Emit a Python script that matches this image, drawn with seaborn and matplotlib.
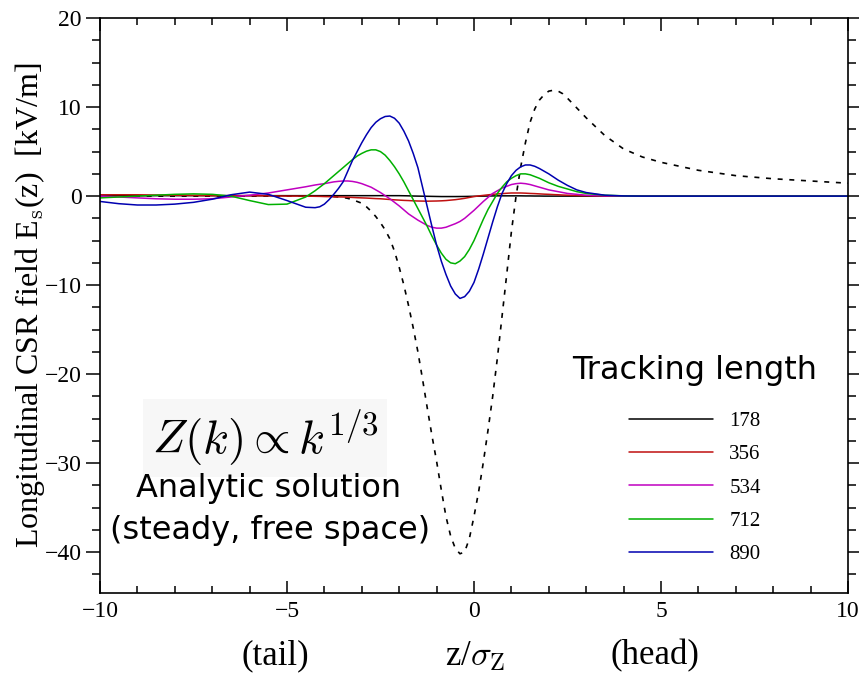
import numpy as np
import pandas as pd
import matplotlib
matplotlib.use("Agg")
import matplotlib.pyplot as plt
from matplotlib.ticker import MultipleLocator
from matplotlib.lines import Line2D
import seaborn as sns

# ---------------- data ----------------
z = [-10, -9.5, -9, -8.5, -8, -7.5, -7, -6.5, -6, -5.5, -5, -4.5,
     -4.25, -4.125, -4.0, -3.875, -3.75, -3.625, -3.5, -3.375, -3.25, -3.125,
     -3.0, -2.875, -2.75, -2.625, -2.5, -2.375, -2.25, -2.125, -2.0, -1.875,
     -1.75, -1.625, -1.5, -1.375, -1.25, -1.125, -1.0, -0.875, -0.75, -0.625,
     -0.5, -0.375, -0.25, -0.125, 0.0, 0.125, 0.25, 0.375, 0.5, 0.625,
     0.75, 0.875, 1.0, 1.125, 1.25, 1.375, 1.5, 1.625, 1.75, 1.875,
     2.0, 2.125, 2.25, 2.375, 2.5,
     2.75, 3, 3.5, 4, 4.5, 5, 6, 7, 8, 9, 10]

analytic = [0, 0, 0, 0, 0, 0, 0, 0, 0, 0, 0, 0,
            0, 0, 0, -0.02, -0.05, -0.1, -0.15, -0.25, -0.4, -0.6,
            -0.8, -1.2, -1.7, -2.3, -3.0, -3.8, -4.8, -6.2, -8.0, -10.0,
            -12.3, -14.8, -17.5, -20.6, -23.8, -26.9, -29.8, -33.0, -36.0, -38.2,
            -39.6, -40.2, -40.0, -38.5, -36.0, -33.2, -29.9, -26.3, -22.5, -18.2,
            -13.5, -8.8, -4.0, 0.0, 3.3, 6.0, 8.3, 9.8, 10.8, 11.4,
            11.8, 11.9, 11.8, 11.5, 11.0,
            9.9, 8.8, 6.8, 5.3, 4.4, 3.8, 2.9, 2.3, 1.95, 1.7, 1.45]

e178 = [0.05, 0.05, 0.05, 0.05, 0.05, 0.05, 0.05, 0.05, 0.05, 0.05, 0.05, 0.05,
        0.05, 0.05, 0.05, 0.05, 0.05, 0.05, 0.05, 0.05, 0.05, 0.05,
        0.05, 0.05, 0.05, 0.05, 0.05, 0.05, 0.05, 0.05, 0.05, 0.04,
        0.03, 0.01, 0.0, -0.01, -0.02, -0.03, -0.04, -0.05, -0.05, -0.05,
        -0.05, -0.045, -0.04, -0.03, -0.02, -0.01, 0.0, 0.01, 0.02, 0.03,
        0.03, 0.03, 0.03, 0.03, 0.03, 0.02, 0.02, 0.01, 0.01, 0.0,
        0, 0, 0, 0, 0,
        0, 0, 0, 0, 0, 0, 0, 0, 0, 0, 0]

e356 = [0.15, 0.15, 0.15, 0.12, 0.1, 0.08, 0.05, 0.05, 0.05, 0.03, 0.0, 0.0,
        -0.02, -0.03, -0.05, -0.06, -0.08, -0.09, -0.1, -0.12, -0.15, -0.18,
        -0.2, -0.22, -0.25, -0.28, -0.3, -0.34, -0.38, -0.42, -0.45, -0.48,
        -0.5, -0.53, -0.55, -0.56, -0.57, -0.56, -0.55, -0.53, -0.5, -0.45,
        -0.4, -0.33, -0.25, -0.15, -0.05, 0.02, 0.08, 0.14, 0.2, 0.24,
        0.28, 0.32, 0.35, 0.35, 0.35, 0.33, 0.3, 0.28, 0.25, 0.22,
        0.2, 0.17, 0.15, 0.12, 0.1,
        0.07, 0.05, 0.02, 0, 0, 0, 0, 0, 0, 0, 0]

e534 = [0.0, -0.1, -0.2, -0.3, -0.35, -0.35, -0.3, -0.1, 0.1, 0.35, 0.7, 1.05,
        1.25, 1.33, 1.4, 1.5, 1.6, 1.66, 1.7, 1.7, 1.65, 1.55,
        1.4, 1.2, 1.0, 0.7, 0.4, 0.05, -0.3, -0.7, -1.1, -1.55,
        -2.0, -2.35, -2.7, -3.0, -3.3, -3.5, -3.6, -3.6, -3.5, -3.3,
        -3.1, -2.85, -2.5, -2.05, -1.6, -1.1, -0.6, -0.15, 0.3, 0.6,
        0.9, 1.1, 1.3, 1.4, 1.45, 1.4, 1.3, 1.15, 1.0, 0.85,
        0.7, 0.6, 0.5, 0.4, 0.3,
        0.2, 0.1, 0.03, 0, 0, 0, 0, 0, 0, 0, 0]

e712 = [-0.2, -0.1, 0.0, 0.1, 0.2, 0.25, 0.2, 0.0, -0.5, -0.95, -0.9, -0.1,
        0.6, 1.0, 1.4, 1.85, 2.3, 2.75, 3.2, 3.65, 4.1, 4.5,
        4.8, 5.05, 5.2, 5.2, 5.0, 4.6, 4.0, 3.3, 2.5, 1.6,
        0.6, -0.4, -1.4, -2.4, -3.4, -4.5, -5.5, -6.4, -7.1, -7.5,
        -7.6, -7.3, -6.8, -6.0, -5.0, -3.8, -2.6, -1.5, -0.6, 0.3,
        1.0, 1.6, 2.0, 2.3, 2.5, 2.5, 2.4, 2.2, 2.0, 1.75,
        1.5, 1.3, 1.1, 0.95, 0.8,
        0.5, 0.3, 0.1, 0.03, 0, 0, 0, 0, 0, 0, 0]

e890 = [-0.6, -0.85, -1.0, -1.0, -0.9, -0.7, -0.35, 0.15, 0.45, 0.2, -0.5, -1.25,
        -1.3, -1.2, -0.9, -0.4, 0.2, 0.85, 1.6, 2.8, 4.0, 5.0,
        6.0, 6.9, 7.7, 8.3, 8.7, 8.95, 9.0, 8.75, 8.2, 7.3,
        6.2, 4.8, 3.2, 1.0, -1.2, -3.4, -5.5, -7.3, -8.8, -10.1,
        -11.0, -11.5, -11.3, -10.7, -9.7, -8.2, -6.5, -4.7, -2.9, -1.2,
        0.3, 1.4, 2.3, 2.9, 3.3, 3.5, 3.5, 3.35, 3.1, 2.8,
        2.5, 2.15, 1.8, 1.5, 1.2,
        0.7, 0.4, 0.1, 0.02, 0, 0, 0, 0, 0, 0, 0]

lengths = ["178", "356", "534", "712", "890"]
series = [e178, e356, e534, e712, e890]
colors = ["#000000", "#c01010", "#c000c0", "#00b000", "#0000b0"]

x_ticks = [-10, -5, 0, 5, 10]
y_ticks = [-40, -30, -20, -10, 0, 10, 20]

for s in series + [analytic]:
    assert len(s) == len(z), (len(s), len(z))

# ---------------- figure ----------------
sns.set_theme(style="white")
plt.rcParams["font.family"] = ["Liberation Serif", "DejaVu Serif"]
plt.rcParams["mathtext.fontset"] = "cm"
for key in ("text.color", "axes.labelcolor", "xtick.color", "ytick.color",
            "axes.edgecolor"):
    plt.rcParams[key] = "black"

fig = plt.figure(figsize=(8.59, 6.73), dpi=100)
ax = fig.add_axes([0.1164, 0.119, 0.8708, 0.854])

df = pd.DataFrame({
    "z": np.tile(z, len(lengths)),
    "E": np.concatenate(series),
    "length": np.repeat(lengths, len(z)),
})
df_a = pd.DataFrame({"z": z, "E": analytic})

sns.lineplot(data=df_a, x="z", y="E", color="black", linewidth=1.2,
             ax=ax, estimator=None, sort=False)
ax.lines[-1].set_dashes((3, 4))

sns.lineplot(data=df, x="z", y="E", hue="length", hue_order=lengths,
             palette=colors, linewidth=1.1, legend=False, ax=ax,
             estimator=None, sort=False)

ax.set_xlim(-10, 10)
ax.set_ylim(-44.6, 20)
ax.set_xticks(x_ticks)
ax.set_yticks(y_ticks)
ax.set_xticklabels([f"{t}".replace("-", "\u2212") for t in x_ticks])
ax.set_yticklabels([f"{t}".replace("-", "\u2212") for t in y_ticks])
ax.xaxis.set_minor_locator(MultipleLocator(1))
ax.yaxis.set_minor_locator(MultipleLocator(2.5))

for s in ax.spines.values():
    s.set_visible(True)
    s.set_color("black")
    s.set_linewidth(1.2)

ax.tick_params(axis="x", which="both", direction="in", top=True, bottom=True,
               labelsize=17, color="black", labelcolor="black", width=1.1, pad=6)
ax.tick_params(axis="x", which="major", length=9)
ax.tick_params(axis="x", which="minor", length=5)
ax.tick_params(axis="y", which="both", direction="out", left=True, right=True,
               labelsize=17, color="black", labelcolor="black", width=1.1, pad=3)
ax.tick_params(axis="y", which="major", length=10)
ax.tick_params(axis="y", which="minor", length=6)
ax.grid(False)

ax.set_xlabel("")
ax.set_ylabel(r"Longitudinal CSR field E$_{\rm s}$(z)  [kV/m]", fontsize=23,
              color="black")
ax.yaxis.set_label_coords(-(100 - 47) / 748, 0.5)

# x-axis caption pieces
fig.text(275 / 859, 1 - 656 / 673, "(tail)", fontsize=25, ha="center", va="center",
         color="black")
fig.text(475 / 859, 1 - 656 / 673, r"z/$\sigma_{\rm Z}$", fontsize=25, ha="center",
         va="center", color="black")
fig.text(655 / 859, 1 - 656 / 673, "(head)", fontsize=25, ha="center", va="center",
         color="black")

# annotation block
ax.text(265 / 859, 1 - 438 / 673, r"$Z(k) \propto k^{1/3}$", transform=fig.transFigure,
        fontsize=34, ha="center", va="center", color="black",
        bbox=dict(facecolor="#f7f7f7", edgecolor="none", pad=6))
ax.text(269 / 859, 1 - 489 / 673, "Analytic solution", transform=fig.transFigure,
        fontsize=23, ha="center", va="center", family="DejaVu Sans", color="black")
ax.text(270 / 859, 1 - 531 / 673, "(steady, free space)", transform=fig.transFigure,
        fontsize=23, ha="center", va="center", family="DejaVu Sans", color="black")

# legend
handles = [Line2D([], [], color=c, linewidth=1.1) for c in colors]
leg = ax.legend(handles, lengths, title="Tracking length", frameon=False,
                loc="upper center", bbox_to_anchor=(695 / 859, 1 - 345 / 673),
                bbox_transform=fig.transFigure, fontsize=15,
                handlelength=4.0, handletextpad=0.8, labelspacing=0.66,
                borderpad=0.0, labelcolor="black")
leg.get_title().set_fontsize(23)
leg.get_title().set_family("DejaVu Sans")
leg.get_title().set_color("black")
leg._legend_box.sep = 18

fig.savefig("out.png", dpi=100)
